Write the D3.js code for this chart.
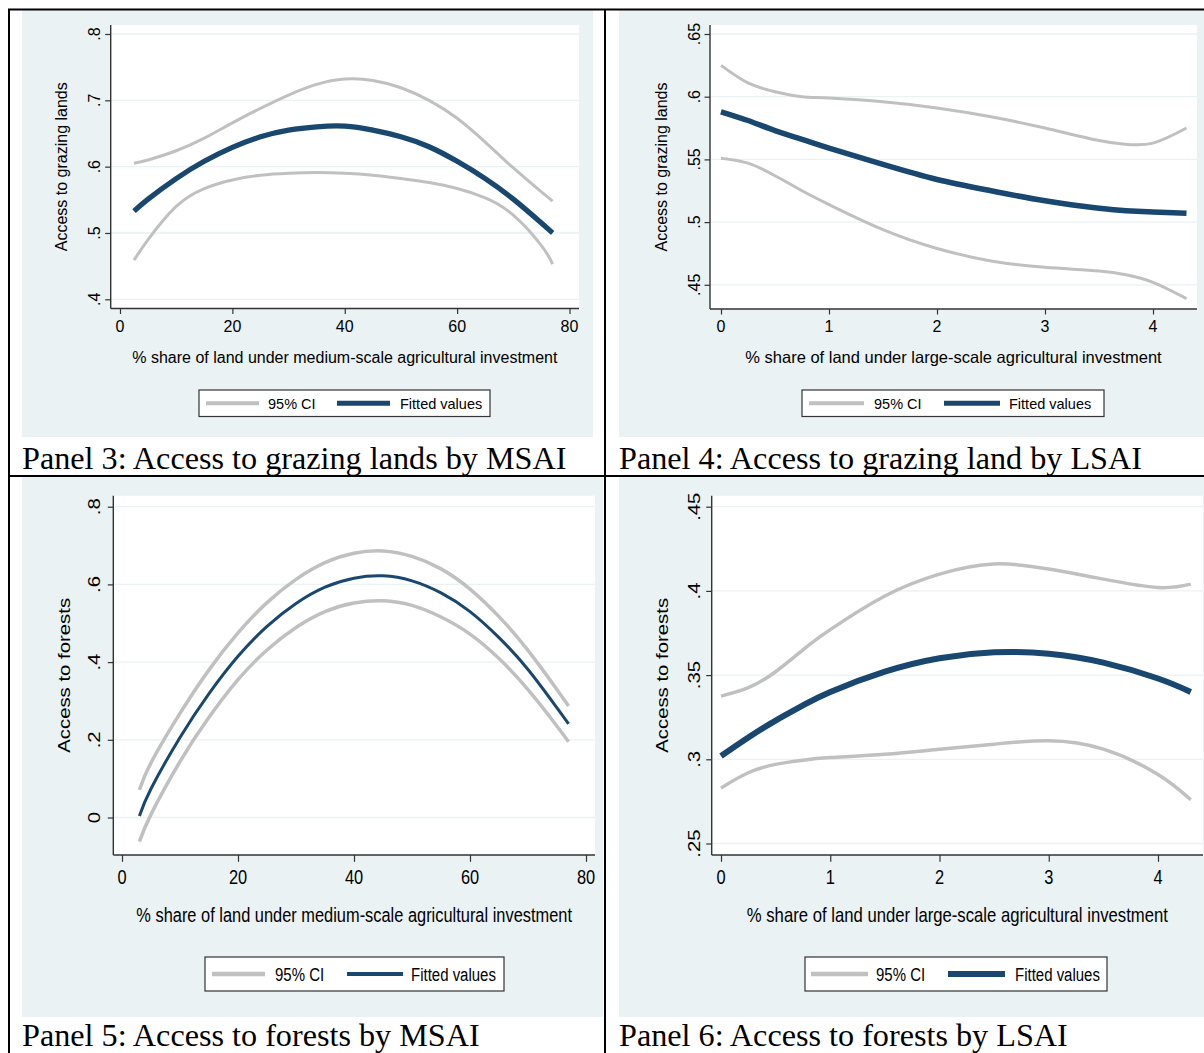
<!DOCTYPE html>
<html>
<head>
<meta charset="utf-8">
<script src="https://cdn.jsdelivr.net/npm/d3@7"></script>
<style>
  body { margin: 0; background: #fff; }
  svg { display: block; }
</style>
</head>
<body>
<svg id="fig" width="1204" height="1053"></svg>
<script>
// ---------- Panel 3: access to grazing lands by MSAI ----------
const p3X   = [2.5, 5, 10, 15, 20, 25, 30, 35, 40, 45, 50, 55, 60, 65, 70, 75, 77];
const p3Fit = [0.533, 0.551, 0.582, 0.608, 0.629, 0.645, 0.655, 0.660, 0.661, 0.655, 0.645, 0.630, 0.608, 0.582, 0.551, 0.515, 0.500];
const p3Hi  = [0.605, 0.610, 0.624, 0.643, 0.666, 0.688, 0.708, 0.724, 0.732, 0.730, 0.719, 0.700, 0.673, 0.637, 0.598, 0.562, 0.548];
const p3Lo  = [0.459, 0.490, 0.540, 0.567, 0.580, 0.587, 0.590, 0.591, 0.590, 0.587, 0.582, 0.576, 0.567, 0.553, 0.527, 0.481, 0.453];
const p3XTicks = [0, 20, 40, 60, 80];
const p3YTicks = [0.4, 0.5, 0.6, 0.7, 0.8];
const p3YLabels = [".4", ".5", ".6", ".7", ".8"];

// ---------- Panel 4: access to grazing land by LSAI ----------
const p4X   = [0, 0.25, 0.5, 0.75, 1, 1.5, 2, 2.5, 3, 3.5, 3.75, 4, 4.31];
const p4Fit = [0.588, 0.581, 0.573, 0.566, 0.559, 0.546, 0.534, 0.525, 0.517, 0.511, 0.509, 0.508, 0.507];
const p4Hi  = [0.625, 0.611, 0.604, 0.600, 0.599, 0.596, 0.591, 0.584, 0.575, 0.565, 0.562, 0.563, 0.575];
const p4Lo  = [0.551, 0.547, 0.537, 0.525, 0.514, 0.494, 0.479, 0.469, 0.464, 0.461, 0.458, 0.452, 0.439];
const p4XTicks = [0, 1, 2, 3, 4];
const p4YTicks = [0.45, 0.5, 0.55, 0.6, 0.65];
const p4YLabels = [".45", ".5", ".55", ".6", ".65"];

// ---------- Panel 5: access to forests by MSAI ----------
const p5X   = [3, 5, 10, 15, 20, 25, 30, 35, 40, 45, 50, 55, 60, 65, 70, 75, 77];
const p5Fit = [0.004, 0.074, 0.206, 0.319, 0.415, 0.492, 0.551, 0.593, 0.616, 0.622, 0.609, 0.578, 0.530, 0.463, 0.381, 0.282, 0.241];
const p5Hi  = [0.071, 0.141, 0.268, 0.380, 0.475, 0.553, 0.613, 0.656, 0.680, 0.686, 0.672, 0.640, 0.588, 0.517, 0.430, 0.329, 0.287];
const p5Lo  = [-0.062, 0.008, 0.144, 0.258, 0.355, 0.431, 0.489, 0.530, 0.552, 0.558, 0.546, 0.516, 0.472, 0.409, 0.329, 0.235, 0.195];
const p5XTicks = [0, 20, 40, 60, 80];
const p5YTicks = [0, 0.2, 0.4, 0.6, 0.8];
const p5YLabels = ["0", ".2", ".4", ".6", ".8"];

// ---------- Panel 6: access to forests by LSAI ----------
const p6X   = [0, 0.25, 0.5, 0.75, 1, 1.5, 2, 2.5, 3, 3.5, 4, 4.3];
const p6Fit = [0.302, 0.313, 0.323, 0.332, 0.340, 0.352, 0.360, 0.3635, 0.3627, 0.3574, 0.348, 0.340];
const p6Hi  = [0.3375, 0.3425, 0.352, 0.365, 0.377, 0.397, 0.410, 0.416, 0.413, 0.407, 0.402, 0.404];
const p6Lo  = [0.283, 0.292, 0.297, 0.2995, 0.301, 0.303, 0.306, 0.309, 0.311, 0.306, 0.291, 0.276];
const p6XTicks = [0, 1, 2, 3, 4];
const p6YTicks = [0.25, 0.3, 0.35, 0.4, 0.45];
const p6YLabels = [".25", ".3", ".35", ".4", ".45"];

// ---------- text ----------
const ciLabel = "95% CI";
const fitLabel = "Fitted values";
const xTitleMSAI = "% share of land under medium-scale agricultural investment";
const xTitleLSAI = "% share of land under large-scale agricultural investment";
const yTitleGrazing = "Access to grazing lands";
const yTitleForest = "Access to forests";

// ---------- styling ----------
const BG = "#eaf2f3";
const GRID = "#eaf2f3";
const NAVY = "#1a476f";
const GREY = "#c0c0c0";
const AXIS = "#333333";
const SANS = "'Liberation Sans', Arial, sans-serif";
const SERIF = "'Liberation Serif', 'Times New Roman', serif";

const svg = d3.select("#fig");

// text drawn at (x, y), optionally rotated, then stretched vertically by sy
function label(g, x, y, str, o = {}) {
  const sy = o.sy || 1;
  const rot = o.rotate || 0;
  return g.append("text")
    .attr("transform", `translate(${x},${y}) scale(1,${sy}) rotate(${rot})`)
    .attr("font-family", o.family || SANS)
    .attr("font-size", o.size || 16)
    .attr("text-anchor", o.anchor || "start")
    .attr("fill", o.fill || "#000")
    .text(str);
}

function drawPanel(cfg) {
  const g = svg.append("g");
  const sy = cfg.sy;

  // graph region and plot region
  g.append("rect").attr("x", cfg.bg[0]).attr("y", cfg.bg[1])
    .attr("width", cfg.bg[2]).attr("height", cfg.bg[3]).attr("fill", BG);
  const [px0, py0, px1, py1] = cfg.plot;
  g.append("rect").attr("x", px0).attr("y", py0)
    .attr("width", px1 - px0).attr("height", py1 - py0).attr("fill", "#fff");

  const x = d3.scaleLinear().domain(cfg.xDom).range(cfg.xRange);
  const y = d3.scaleLinear().domain(cfg.yDom).range(cfg.yRange);

  // horizontal grid lines
  g.append("g").selectAll("line").data(cfg.yTicks).join("line")
    .attr("x1", px0).attr("x2", px1)
    .attr("y1", d => y(d)).attr("y2", d => y(d))
    .attr("stroke", GRID).attr("stroke-width", 1.3);

  // axes: tick marks from d3 axes, lines along the plot region edges
  const yAx = g.append("g").attr("transform", `translate(${px0},0)`)
    .call(d3.axisLeft(y).tickValues(cfg.yTicks).tickFormat("").tickSize(cfg.tick).tickSizeOuter(0));
  const xAx = g.append("g").attr("transform", `translate(0,${py1})`)
    .call(d3.axisBottom(x).tickValues(cfg.xTicks).tickFormat("").tickSize(cfg.tick * sy).tickSizeOuter(0));
  [yAx, xAx].forEach(a => {
    a.select(".domain").remove();
    a.selectAll("line").attr("stroke", AXIS).attr("stroke-width", 1.2);
  });
  g.append("line").attr("x1", px0).attr("x2", px0).attr("y1", py0).attr("y2", py1)
    .attr("stroke", AXIS).attr("stroke-width", 1.4);
  g.append("line").attr("x1", px0).attr("x2", px1).attr("y1", py1).attr("y2", py1)
    .attr("stroke", AXIS).attr("stroke-width", 1.4);

  // tick labels
  cfg.yTicks.forEach((t, i) =>
    label(g, cfg.yLabX, y(t), cfg.yLabels[i], { rotate: -90, anchor: "middle", sy, size: cfg.fs }));
  cfg.xTicks.forEach(t =>
    label(g, x(t), cfg.xLabY, String(t), { anchor: "middle", sy, size: cfg.fs }));

  // axis titles
  label(g, cfg.yTitleX, (py0 + py1) / 2, cfg.yTitle, { rotate: -90, anchor: "middle", sy, size: cfg.fs });
  label(g, (px0 + px1) / 2, cfg.xTitleY, cfg.xTitle, { anchor: "middle", sy, size: cfg.xfs || cfg.fs });

  // confidence bands and fitted curve
  const line = ys => d3.line().curve(d3.curveNatural)
    .x((d, i) => x(cfg.xs[i])).y(d => y(d))(ys);
  g.append("path").attr("d", line(cfg.hi)).attr("fill", "none")
    .attr("stroke", GREY).attr("stroke-width", cfg.ciW);
  g.append("path").attr("d", line(cfg.lo)).attr("fill", "none")
    .attr("stroke", GREY).attr("stroke-width", cfg.ciW);
  g.append("path").attr("d", line(cfg.fit)).attr("fill", "none")
    .attr("stroke", NAVY).attr("stroke-width", cfg.fitW);

  // legend
  const [lx0, ly0, lx1, ly1] = cfg.legend;
  const lc = (ly0 + ly1) / 2;
  g.append("rect").attr("x", lx0).attr("y", ly0).attr("width", lx1 - lx0).attr("height", ly1 - ly0)
    .attr("fill", "#fff").attr("stroke", "#333").attr("stroke-width", 1.2);
  const k = cfg.legKeys;
  g.append("line").attr("x1", lx0 + k[0]).attr("x2", lx0 + k[1]).attr("y1", lc).attr("y2", lc)
    .attr("stroke", GREY).attr("stroke-width", cfg.legCiW);
  label(g, lx0 + k[2], lc + 5.5 * sy, ciLabel, { sy, size: cfg.legFs });
  g.append("line").attr("x1", lx0 + k[3]).attr("x2", lx0 + k[4]).attr("y1", lc).attr("y2", lc)
    .attr("stroke", NAVY).attr("stroke-width", cfg.legFitW);
  label(g, lx0 + k[5], lc + 5.5 * sy, fitLabel, { sy, size: cfg.legFs });

  // caption below the graph
  label(g, cfg.capX, cfg.capY, cfg.caption, { family: SERIF, size: 32.2 });
}

drawPanel({
  bg: [22, 10, 571, 427], plot: [110.7, 25, 579, 308.5],
  xDom: [0, 80], xRange: [120, 569.5], yDom: [0.4, 0.8], yRange: [299.3, 34],
  xs: p3X, fit: p3Fit, hi: p3Hi, lo: p3Lo,
  xTicks: p3XTicks, yTicks: p3YTicks, yLabels: p3YLabels,
  sy: 1, fs: 16, tick: 5.5, yLabX: 100, xLabY: 332, yTitleX: 67, xTitleY: 363,
  yTitle: yTitleGrazing, xTitle: xTitleMSAI,
  ciW: 3, fitW: 5.2,
  legend: [199, 390, 490, 416.5], legKeys: [7, 60, 69, 138, 191, 201], legFs: 14.5, legCiW: 4, legFitW: 5,
  caption: "Panel 3: Access to grazing lands by MSAI", capX: 22, capY: 469
});

drawPanel({
  bg: [619, 10, 600, 427], plot: [710, 25, 1197, 309],
  xDom: [0, 4], xRange: [721, 1153], yDom: [0.45, 0.65], yRange: [284.8, 34],
  xs: p4X, fit: p4Fit, hi: p4Hi, lo: p4Lo,
  xTicks: p4XTicks, yTicks: p4YTicks, yLabels: p4YLabels,
  sy: 1, fs: 16, xfs: 16.5, tick: 5.5, yLabX: 700, xLabY: 332, yTitleX: 667, xTitleY: 363,
  yTitle: yTitleGrazing, xTitle: xTitleLSAI,
  ciW: 3, fitW: 5.5,
  legend: [802, 390, 1104, 416.5], legKeys: [7, 62, 72, 142, 198, 207], legFs: 14.5, legCiW: 4, legFitW: 5,
  caption: "Panel 4: Access to grazing land by LSAI", capX: 619, capY: 469
});

drawPanel({
  bg: [22, 477, 581, 540], plot: [113.3, 495.7, 595, 855],
  xDom: [0, 80], xRange: [122, 586], yDom: [0, 0.8], yRange: [817.5, 506.7],
  xs: p5X, fit: p5Fit, hi: p5Hi, lo: p5Lo,
  xTicks: p5XTicks, yTicks: p5YTicks, yLabels: p5YLabels,
  sy: 1.24, fs: 16.4, tick: 5.5, yLabX: 100, xLabY: 884, yTitleX: 70, xTitleY: 922,
  yTitle: yTitleForest, xTitle: xTitleMSAI,
  ciW: 3.5, fitW: 3,
  legend: [205, 957, 504, 991], legKeys: [7, 60, 70, 142, 198, 206], legFs: 15, legCiW: 4.5, legFitW: 4,
  caption: "Panel 5: Access to forests by MSAI", capX: 22, capY: 1046
});

drawPanel({
  bg: [619, 477, 600, 540], plot: [711.7, 495.7, 1203, 855],
  xDom: [0, 4], xRange: [721, 1158], yDom: [0.25, 0.45], yRange: [843.5, 506.7],
  xs: p6X, fit: p6Fit, hi: p6Hi, lo: p6Lo,
  xTicks: p6XTicks, yTicks: p6YTicks, yLabels: p6YLabels,
  sy: 1.24, fs: 16.4, xfs: 16.7, tick: 5.5, yLabX: 700, xLabY: 884, yTitleX: 668, xTitleY: 922,
  yTitle: yTitleForest, xTitle: xTitleLSAI,
  ciW: 3.5, fitW: 6,
  legend: [805, 957, 1107, 991], legKeys: [6, 63, 71, 143, 200, 210], legFs: 15, legCiW: 4.5, legFitW: 6,
  caption: "Panel 6: Access to forests by LSAI", capX: 619, capY: 1046
});

// table rules separating the four panels
const rules = svg.append("g").attr("stroke", "#000").attr("stroke-width", 2);
rules.append("line").attr("x1", 8).attr("x2", 1204).attr("y1", 9.5).attr("y2", 9.5);
rules.append("line").attr("x1", 9).attr("x2", 9).attr("y1", 9).attr("y2", 1053);
rules.append("line").attr("x1", 605).attr("x2", 605).attr("y1", 9).attr("y2", 1053);
rules.append("line").attr("x1", 8).attr("x2", 1204).attr("y1", 476).attr("y2", 476);
</script>
</body>
</html>
